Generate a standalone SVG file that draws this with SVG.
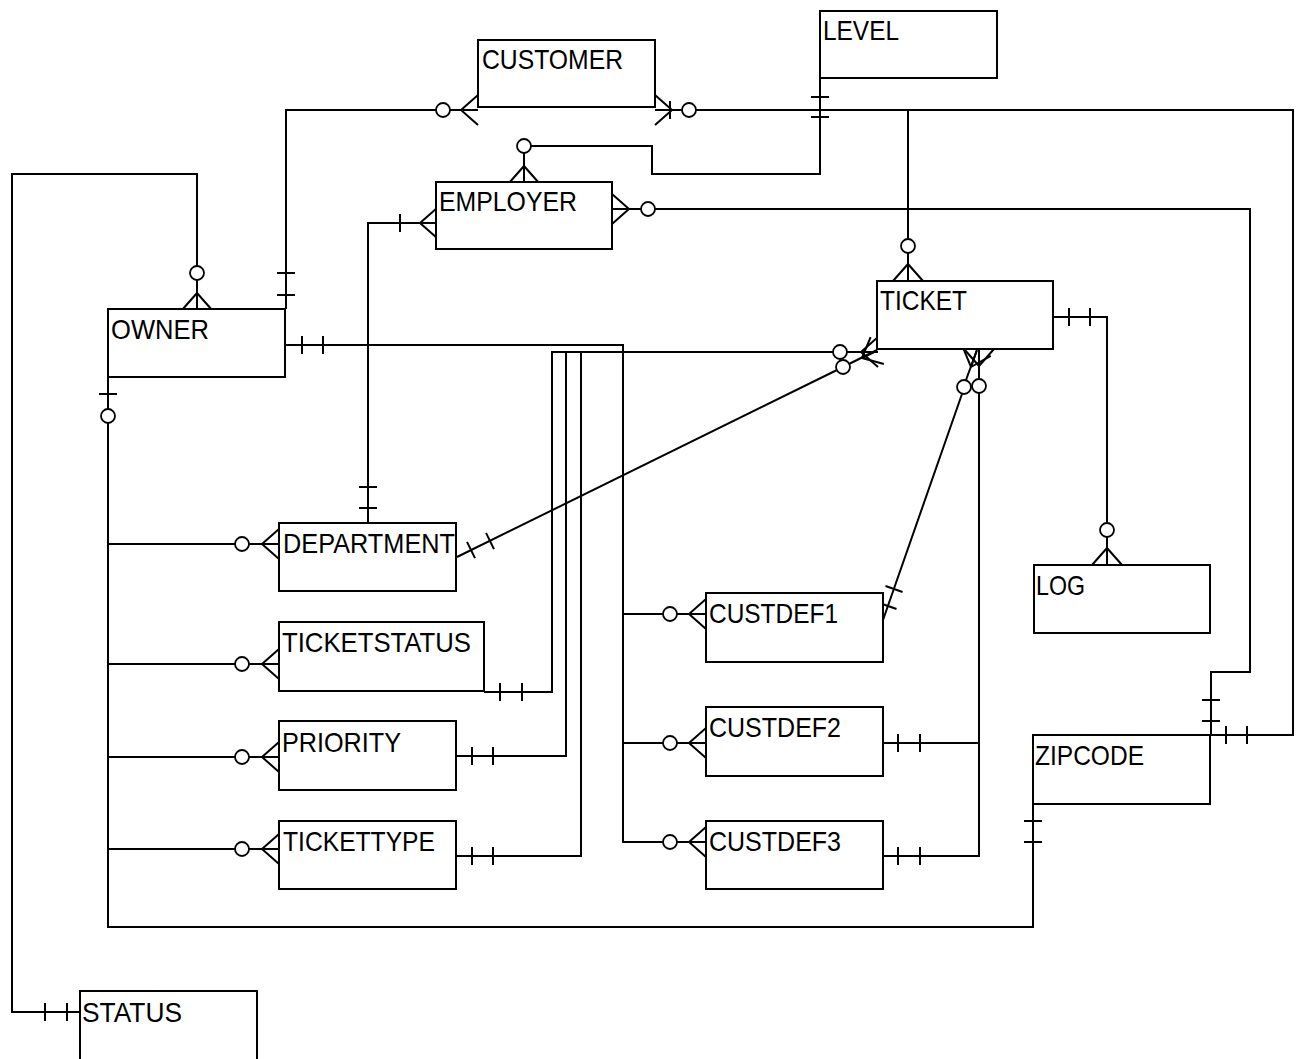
<svg xmlns="http://www.w3.org/2000/svg" xmlns:xlink="http://www.w3.org/1999/xlink" width="1299" height="1059" viewBox="0 0 1299 1059">
  <style>
    .box { fill: #fff; stroke: #000; stroke-width: 2; }
    .ln { fill: none; stroke: #000; stroke-width: 2; }
    .ring { fill: #fff; stroke: #000; stroke-width: 1.8; }
    .t { font-family: "Liberation Sans", Arial, sans-serif; font-size: 28px; fill: #000; }
  </style>
  <defs>
    <!-- crow's foot: apex at origin, prongs open toward +x -->
    <path id="crow" class="ln" d="M0,0 L17,-15 M0,0 L17,0 M0,0 L17,15"/>
    <!-- single cross bar across a line running along x -->
    <path id="bar" class="ln" d="M0,-9 L0,9"/>
    <circle id="ring" class="ring" r="7"/>
  </defs>

  <rect width="1299" height="1059" fill="#fff"/>

  <g id="connectors">
    <!-- OWNER to CUSTOMER -->
    <path class="ln" d="M286,309 V110 H436 M450,110 H478"/>
    <use xlink:href="#ring" x="443" y="110"/>
    <use xlink:href="#crow" transform="translate(461,110)"/>
    <use xlink:href="#bar" transform="translate(286,273) rotate(90)"/>
    <use xlink:href="#bar" transform="translate(286,295) rotate(90)"/>

    <!-- CUSTOMER to TICKET and ZIPCODE -->
    <path class="ln" d="M655,110 H682 M696,110 H1293 V735 H1210"/>
    <use xlink:href="#crow" transform="translate(672,110) rotate(180)"/>
    <use xlink:href="#bar" transform="translate(670,110)"/>
    <use xlink:href="#ring" x="689" y="110"/>
    <use xlink:href="#bar" transform="translate(1226,735)"/>
    <use xlink:href="#bar" transform="translate(1247,735)"/>
    <path class="ln" d="M908,110 V239 M908,253 V281"/>
    <use xlink:href="#ring" x="908" y="246"/>
    <use xlink:href="#crow" transform="translate(908,264) rotate(90)"/>

    <!-- LEVEL to EMPLOYER -->
    <path class="ln" d="M820,78 V174 H652 V146 H531 M524,153 V182"/>
    <use xlink:href="#ring" x="524" y="146"/>
    <use xlink:href="#crow" transform="translate(524,166) rotate(90)"/>
    <use xlink:href="#bar" transform="translate(820,97) rotate(90)"/>
    <use xlink:href="#bar" transform="translate(820,117) rotate(90)"/>

    <!-- EMPLOYER to ZIPCODE -->
    <path class="ln" d="M612,209 H641 M655,209 H1250 V672 H1211 V735"/>
    <use xlink:href="#crow" transform="translate(629,209) rotate(180)"/>
    <use xlink:href="#ring" x="648" y="209"/>
    <use xlink:href="#bar" transform="translate(1211,700) rotate(90)"/>
    <use xlink:href="#bar" transform="translate(1211,721) rotate(90)"/>

    <!-- DEPARTMENT to EMPLOYER -->
    <path class="ln" d="M368,523 V223 H436"/>
    <use xlink:href="#crow" transform="translate(420,223)"/>
    <use xlink:href="#bar" transform="translate(400,223)"/>
    <use xlink:href="#bar" transform="translate(368,487) rotate(90)"/>
    <use xlink:href="#bar" transform="translate(368,508) rotate(90)"/>

    <!-- OWNER to STATUS -->
    <path class="ln" d="M197,309 V280 M197,266 V174 H12 V1012 H80"/>
    <use xlink:href="#ring" x="197" y="273"/>
    <use xlink:href="#crow" transform="translate(197,293) rotate(90)"/>
    <use xlink:href="#bar" transform="translate(45,1012)"/>
    <use xlink:href="#bar" transform="translate(67,1012)"/>

    <!-- OWNER to CUSTDEF1..3 -->
    <path class="ln" d="M285,345 H623 V842 H663 M623,614 H663 M623,743 H663 M677,614 H706 M677,743 H706 M677,842 H706"/>
    <use xlink:href="#bar" transform="translate(302,345)"/>
    <use xlink:href="#bar" transform="translate(323,345)"/>
    <use xlink:href="#ring" x="670" y="614"/>
    <use xlink:href="#ring" x="670" y="743"/>
    <use xlink:href="#ring" x="670" y="842"/>
    <use xlink:href="#crow" transform="translate(689,614)"/>
    <use xlink:href="#crow" transform="translate(689,743)"/>
    <use xlink:href="#crow" transform="translate(689,842)"/>

    <!-- TICKETSTATUS, PRIORITY, TICKETTYPE to TICKET -->
    <path class="ln" d="M877,352 H847 M833,352 H552 V692 H484 M566,352 V756 H456 M581,352 V856 H456"/>
    <use xlink:href="#ring" x="840" y="352"/>
    <use xlink:href="#crow" transform="translate(861,352)"/>
    <use xlink:href="#bar" transform="translate(500,692)"/>
    <use xlink:href="#bar" transform="translate(522,692)"/>
    <use xlink:href="#bar" transform="translate(472,756)"/>
    <use xlink:href="#bar" transform="translate(493,756)"/>
    <use xlink:href="#bar" transform="translate(472,856)"/>
    <use xlink:href="#bar" transform="translate(493,856)"/>

    <!-- DEPARTMENT to TICKET -->
    <path class="ln" d="M457,557 L837,370 M849,364 L877,350"/>
    <use xlink:href="#ring" x="843" y="367"/>
    <use xlink:href="#crow" transform="translate(862,358) rotate(-26.2)"/>
    <use xlink:href="#bar" transform="translate(471,550) rotate(-26.2)"/>
    <use xlink:href="#bar" transform="translate(490,541) rotate(-26.2)"/>

    <!-- CUSTDEF1 to TICKET -->
    <path class="ln" d="M883,620 L962,394 M966,380 L977,350"/>
    <use xlink:href="#ring" x="964" y="387"/>
    <use xlink:href="#crow" transform="translate(971,367) rotate(-70.8)"/>
    <use xlink:href="#bar" transform="translate(888,606) rotate(-70.8)"/>
    <use xlink:href="#bar" transform="translate(894,589) rotate(-70.8)"/>

    <!-- CUSTDEF2 and CUSTDEF3 to TICKET -->
    <path class="ln" d="M883,743 H979 M883,856 H979 V393 M979,379 V349"/>
    <use xlink:href="#ring" x="979" y="386"/>
    <use xlink:href="#crow" transform="translate(979,366) rotate(-90)"/>
    <use xlink:href="#bar" transform="translate(898,743)"/>
    <use xlink:href="#bar" transform="translate(920,743)"/>
    <use xlink:href="#bar" transform="translate(898,856)"/>
    <use xlink:href="#bar" transform="translate(920,856)"/>

    <!-- TICKET to LOG -->
    <path class="ln" d="M1053,317 H1107 V523 M1107,537 V565"/>
    <use xlink:href="#ring" x="1107" y="530"/>
    <use xlink:href="#crow" transform="translate(1107,548) rotate(90)"/>
    <use xlink:href="#bar" transform="translate(1069,317)"/>
    <use xlink:href="#bar" transform="translate(1090,317)"/>

    <!-- OWNER to DEPARTMENT, TICKETSTATUS, PRIORITY, TICKETTYPE and ZIPCODE -->
    <path class="ln" d="M108,377 V409 M108,423 V927 H1033 V804 M108,544 H235 M108,664 H235 M108,757 H235 M108,849 H235 M249,544 H279 M249,664 H279 M249,757 H279 M249,849 H279"/>
    <use xlink:href="#bar" transform="translate(108,394) rotate(90)"/>
    <use xlink:href="#ring" x="108" y="416"/>
    <use xlink:href="#bar" transform="translate(1033,821) rotate(90)"/>
    <use xlink:href="#bar" transform="translate(1033,842) rotate(90)"/>
    <use xlink:href="#ring" x="242" y="544"/>
    <use xlink:href="#ring" x="242" y="664"/>
    <use xlink:href="#ring" x="242" y="757"/>
    <use xlink:href="#ring" x="242" y="849"/>
    <use xlink:href="#crow" transform="translate(262,544)"/>
    <use xlink:href="#crow" transform="translate(262,664)"/>
    <use xlink:href="#crow" transform="translate(262,757)"/>
    <use xlink:href="#crow" transform="translate(262,849)"/>
  </g>

  <g id="level"><rect class="box" x="820" y="11" width="177" height="67"/><text class="t" x="823" y="40" textLength="76" lengthAdjust="spacingAndGlyphs">LEVEL</text></g>
  <g id="customer"><rect class="box" x="478" y="40" width="177" height="67"/><text class="t" x="482" y="69" textLength="141" lengthAdjust="spacingAndGlyphs">CUSTOMER</text></g>
  <g id="employer"><rect class="box" x="436" y="182" width="176" height="67"/><text class="t" x="439" y="211" textLength="138" lengthAdjust="spacingAndGlyphs">EMPLOYER</text></g>
  <g id="ticket"><rect class="box" x="877" y="281" width="176" height="68"/><text class="t" x="880" y="310" textLength="87" lengthAdjust="spacingAndGlyphs">TICKET</text></g>
  <g id="owner"><rect class="box" x="108" y="309" width="177" height="68"/><text class="t" x="111" y="339" textLength="98" lengthAdjust="spacingAndGlyphs">OWNER</text></g>
  <g id="department"><rect class="box" x="279" y="523" width="177" height="68"/><text class="t" x="283" y="553" textLength="172" lengthAdjust="spacingAndGlyphs">DEPARTMENT</text></g>
  <g id="ticketstatus"><rect class="box" x="279" y="622" width="205" height="69"/><text class="t" x="282" y="652" textLength="189" lengthAdjust="spacingAndGlyphs">TICKETSTATUS</text></g>
  <g id="priority"><rect class="box" x="279" y="721" width="177" height="69"/><text class="t" x="282" y="752" textLength="119" lengthAdjust="spacingAndGlyphs">PRIORITY</text></g>
  <g id="tickettype"><rect class="box" x="279" y="821" width="177" height="68"/><text class="t" x="283" y="851" textLength="152" lengthAdjust="spacingAndGlyphs">TICKETTYPE</text></g>
  <g id="custdef1"><rect class="box" x="706" y="593" width="177" height="69"/><text class="t" x="709" y="623" textLength="129" lengthAdjust="spacingAndGlyphs">CUSTDEF1</text></g>
  <g id="custdef2"><rect class="box" x="706" y="707" width="177" height="69"/><text class="t" x="709" y="737" textLength="132" lengthAdjust="spacingAndGlyphs">CUSTDEF2</text></g>
  <g id="custdef3"><rect class="box" x="706" y="821" width="177" height="68"/><text class="t" x="709" y="851" textLength="132" lengthAdjust="spacingAndGlyphs">CUSTDEF3</text></g>
  <g id="log"><rect class="box" x="1034" y="565" width="176" height="68"/><text class="t" x="1036" y="595" textLength="49" lengthAdjust="spacingAndGlyphs">LOG</text></g>
  <g id="zipcode"><rect class="box" x="1033" y="735" width="177" height="69"/><text class="t" x="1035" y="765" textLength="109" lengthAdjust="spacingAndGlyphs">ZIPCODE</text></g>
  <g id="status"><rect class="box" x="80" y="991" width="177" height="70"/><text class="t" x="82" y="1022" textLength="100" lengthAdjust="spacingAndGlyphs">STATUS</text></g>
</svg>
